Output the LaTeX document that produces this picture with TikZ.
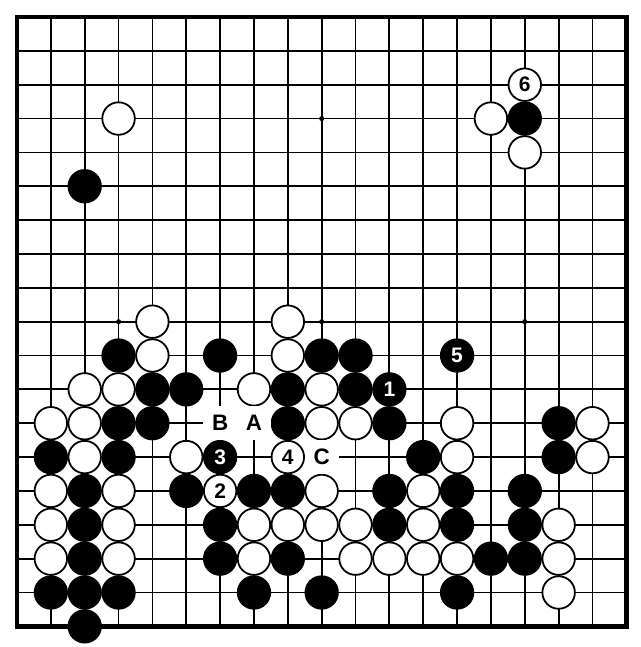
\documentclass[tikz,border=0pt]{standalone}
\usepackage{fontspec}
\setmainfont{Liberation Sans}
\tikzset{
  gridline/.style={line width=0.9pt,black},
  boardedge/.style={line width=2.2pt,black},
  bstone/.style={circle,draw=black,fill=black,line width=0.9pt,minimum size=0.576cm,inner sep=0pt,text=white,font=\fontsize{10.6}{10.6}\selectfont\bfseries},
  wstone/.style={circle,draw=black,fill=white,line width=0.9pt,minimum size=0.576cm,inner sep=0pt,text=black,font=\fontsize{10.6}{10.6}\selectfont\bfseries},
  marklabel/.style={rectangle,fill=white,minimum size=0.6cm,inner sep=0pt,font=\fontsize{11.3}{11.3}\selectfont\bfseries},
  hoshi/.style={circle,fill=black,minimum size=0.09cm,inner sep=0pt}
}
\begin{document}
\begin{tikzpicture}[x=0.6cm,y=-0.6cm]
\useasboundingbox (-0.502,-0.502) rectangle (18.405,18.61);
\fill[white] (-0.502,-0.502) rectangle (18.405,18.61);
\foreach \i in {1,...,17} {
  \draw[gridline] (\i,0) -- (\i,18);
  \draw[gridline] (0,\i) -- (18,\i);
}
\draw[boardedge] (0,0) rectangle (18,18);
\foreach \x/\y [count=\k] in {3/3,9/3,15/3,3/9,9/9,15/9,3/15,9/15,15/15}
  \node[hoshi] (h\k) at (\x,\y) {};
% black stones
\foreach \x/\y [count=\k] in {2/5,15/3,
  3/10,6/10,9/10,10/10,
  4/11,5/11,8/11,10/11,
  3/12,4/12,8/12,11/12,16/12,
  1/13,3/13,12/13,16/13,
  2/14,5/14,7/14,8/14,11/14,13/14,15/14,
  2/15,6/15,11/15,13/15,15/15,
  2/16,6/16,8/16,14/16,15/16,
  1/17,2/17,3/17,7/17,9/17,13/17,
  2/18}
  \node[bstone] (b\k) at (\x,\y) {};
% white stones
\foreach \x/\y [count=\k] in {3/3,14/3,15/4,
  4/9,8/9,
  4/10,8/10,
  2/11,3/11,7/11,9/11,
  1/12,2/12,9/12,10/12,13/12,17/12,
  2/13,5/13,13/13,17/13,
  1/14,3/14,9/14,12/14,
  1/15,3/15,7/15,8/15,9/15,10/15,12/15,16/15,
  1/16,3/16,7/16,10/16,11/16,12/16,13/16,16/16,
  16/17}
  \node[wstone] (w\k) at (\x,\y) {};
% numbered moves
\node[bstone] (m1) at (11,11) {1};
\node[wstone] (m2) at (6,14) {2};
\node[bstone] (m3) at (6,13) {3};
\node[wstone] (m4) at (8,13) {4};
\node[bstone] (m5) at (13,10) {5};
\node[wstone] (m6) at (15,2) {6};
% letters
\node[marklabel] (lA) at (7,12) {A};
\node[marklabel] (lB) at (6,12) {B};
\node[marklabel] (lC) at (9,13) {C};
\end{tikzpicture}
\end{document}
